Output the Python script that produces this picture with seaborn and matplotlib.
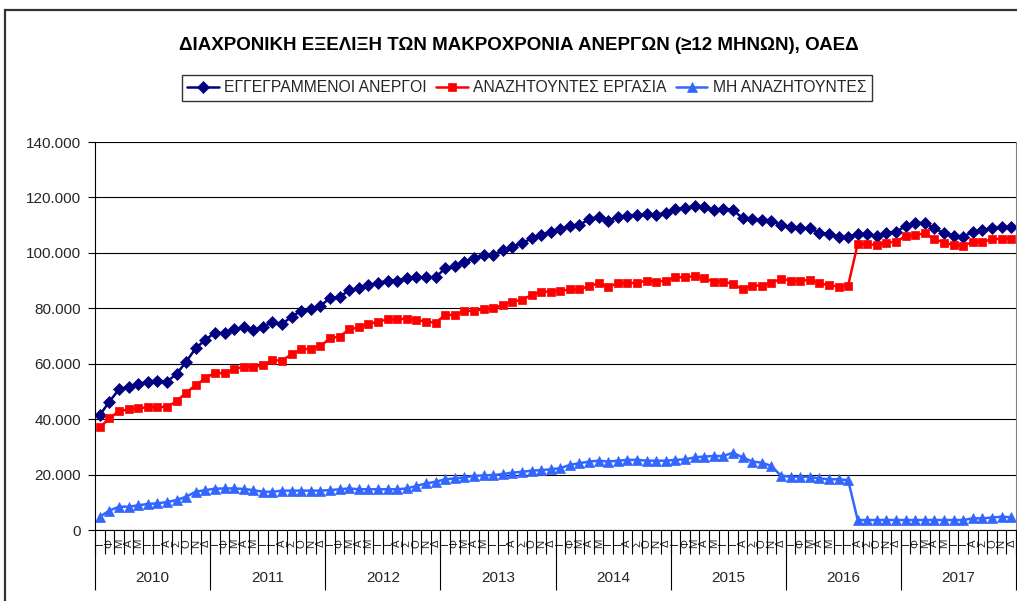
import matplotlib
matplotlib.use("Agg")
import matplotlib.pyplot as plt
import seaborn as sns
import pandas as pd
import numpy as np
from matplotlib.patches import Rectangle

# ---------------- data ----------------
years = ['2010', '2011', '2012', '2013', '2014', '2015', '2016', '2017']
months = ['Ι', 'Φ', 'Μ', 'Α', 'Μ', 'Ι', 'Ι', 'Α', 'Σ', 'Ο', 'Ν', 'Δ']
series_names = ['ΕΓΓΕΓΡΑΜΜΕΝΟΙ ΑΝΕΡΓΟΙ', 'ΑΝΑΖΗΤΟΥΝΤΕΣ ΕΡΓΑΣΙΑ', 'ΜΗ ΑΝΑΖΗΤΟΥΝΤΕΣ']
title = 'ΔΙΑΧΡΟΝΙΚΗ ΕΞΕΛΙΞΗ ΤΩΝ ΜΑΚΡΟΧΡΟΝΙΑ ΑΝΕΡΓΩΝ (≥12 ΜΗΝΩΝ), ΟΑΕΔ'

# values in thousands of persons, monthly Jan 2010 - Dec 2017
registered = [
    41.5, 46.3, 50.8, 51.7, 52.7, 53.5, 53.9, 53.5, 56.3, 60.7, 65.6, 68.6,
    71.2, 71.0, 72.4, 73.1, 72.2, 73.1, 75.2, 74.3, 77.0, 79.1, 79.6, 81.0,
    83.6, 84.0, 86.6, 87.2, 88.4, 89.0, 90.0, 90.0, 90.8, 91.2, 91.2, 91.2,
    94.4, 95.3, 96.8, 98.0, 99.2, 99.2, 101.0, 102.2, 103.4, 105.2, 106.4, 107.6,
    108.6, 109.7, 110.1, 112.1, 113.1, 111.5, 113.1, 113.4, 113.7, 114.0, 113.7, 114.5,
    115.7, 116.1, 117.0, 116.5, 115.5, 116.0, 115.5, 112.5, 112.1, 111.9, 111.6, 110.0,
    109.2, 108.8, 108.8, 107.3, 106.8, 105.8, 105.8, 106.8, 106.8, 106.1, 107.3, 107.6,
    109.7, 110.7, 110.9, 108.8, 107.1, 106.1, 105.8, 107.6, 108.2, 108.8, 109.2, 109.4,
]
seeking = [
    37.0, 40.3, 42.9, 43.5, 43.9, 44.3, 44.5, 44.3, 46.5, 49.5, 52.3, 54.7,
    56.8, 56.5, 58.0, 58.9, 58.7, 59.5, 61.3, 61.1, 63.5, 65.2, 65.4, 66.4,
    69.2, 69.8, 72.4, 73.1, 74.3, 75.2, 76.0, 76.0, 76.3, 75.8, 75.2, 74.8,
    77.6, 77.6, 79.1, 79.1, 79.6, 80.0, 81.2, 82.4, 83.0, 84.8, 86.0, 86.0,
    86.3, 86.8, 86.8, 88.0, 89.0, 87.8, 89.0, 89.0, 89.2, 90.0, 89.6, 90.0,
    91.2, 91.2, 91.6, 90.8, 89.6, 89.6, 88.8, 86.8, 88.2, 88.2, 89.2, 90.6,
    90.0, 90.0, 90.2, 89.0, 88.4, 87.8, 88.2, 103.2, 103.2, 102.8, 103.7, 104.0,
    106.1, 106.4, 107.1, 104.9, 103.7, 102.8, 102.5, 104.0, 104.0, 104.9, 105.1, 105.1,
]
not_seeking = [
    4.8, 7.0, 8.4, 8.4, 8.9, 9.4, 9.6, 10.1, 10.8, 12.0, 13.8, 14.4,
    14.9, 15.0, 15.0, 14.8, 14.4, 13.8, 13.8, 14.2, 14.2, 14.2, 14.2, 14.2,
    14.4, 14.7, 15.0, 14.7, 14.7, 14.7, 14.7, 14.7, 15.0, 15.9, 16.8, 17.4,
    18.3, 18.6, 19.0, 19.5, 19.7, 19.8, 20.2, 20.7, 21.0, 21.4, 21.6, 21.9,
    22.3, 23.5, 24.1, 24.7, 25.0, 24.7, 25.0, 25.3, 25.3, 25.0, 25.0, 25.0,
    25.3, 25.5, 26.2, 26.5, 26.7, 26.7, 27.9, 26.2, 24.7, 24.3, 23.1, 19.6,
    19.2, 19.2, 19.2, 18.6, 18.3, 18.3, 18.0, 3.6, 3.6, 3.6, 3.6, 3.6,
    3.6, 3.6, 3.6, 3.6, 3.6, 3.6, 3.6, 4.2, 4.2, 4.5, 4.8, 4.6,
]
y_ticks = [0, 20000, 40000, 60000, 80000, 100000, 120000, 140000]

# ---------------- style ----------------
sns.set_theme(style='white')
plt.rcParams['font.family'] = ['Liberation Sans', 'DejaVu Sans']

W, H = 1017, 601
fig = plt.figure(figsize=(W / 100, H / 100), dpi=100)
fig.patch.set_facecolor('white')
ax = fig.add_axes([95 / W, 1 - 530 / H, (1016 - 95) / W, (530 - 142) / H])
ax.set_facecolor('white')

n = len(years) * len(months)
df = pd.DataFrame({
    'idx': np.arange(n),
    series_names[0]: np.array(registered) * 1000,
    series_names[1]: np.array(seeking) * 1000,
    series_names[2]: np.array(not_seeking) * 1000,
})

colors = ['#000080', '#FF0000', '#3366FF']
markers = ['D', 's', '^']
msizes = [6.0, 5.5, 6.5]
for name, c, m, ms in zip(series_names, colors, markers, msizes):
    sns.lineplot(data=df, x='idx', y=name, ax=ax, color=c, marker=m,
                 markersize=ms, markeredgecolor=c, markeredgewidth=0.5,
                 linewidth=1.8, label=name, legend=False)

ax.set_xlim(-0.5, n - 0.5)
ax.set_ylim(0, 140000)
ax.set_xlabel('')
ax.set_ylabel('')

# y axis
ax.set_yticks(y_ticks)
ax.set_yticklabels([f'{v:,.0f}'.replace(',', '.') for v in y_ticks], fontsize=11)
ax.yaxis.grid(True, color='black', linewidth=0.8)
ax.set_axisbelow(True)
ax.tick_params(axis='y', length=5, width=0.8, color='black', direction='out',
               pad=5, left=True)

# x axis: month labels
ax.set_xticks(np.arange(n))
ax.set_xticklabels(months * len(years), fontsize=8.2, rotation=90)
for lbl in ax.get_xticklabels():
    lbl.set_verticalalignment('center')
ax.tick_params(axis='x', which='major', length=0, pad=9.8, bottom=True)
ax.set_xticks(np.arange(-0.5, n, 1), minor=True)
ax.tick_params(axis='x', which='minor', length=17, width=0.8, color='black',
               direction='out', bottom=True)

# year separators and labels
xt = ax.get_xaxis_transform()
ax.vlines([k * 12 - 0.5 for k in range(len(years) + 1)], -60 / 388, 0,
          transform=xt, colors='black', linewidth=0.8, clip_on=False)
for k, yr in enumerate(years):
    ax.text(k * 12 + 5.5, -48 / 388, yr, transform=xt, ha='center',
            va='center', fontsize=11)

for s in ['left', 'bottom']:
    ax.spines[s].set_color('black')
    ax.spines[s].set_linewidth(0.8)
ax.spines['top'].set_visible(False)
ax.spines['right'].set_color('#808080')
ax.spines['right'].set_linewidth(0.8)

# title
fig.text(519 / W, 1 - 45 / H, title, ha='center', va='center',
         fontsize=13.5, fontweight='bold', color='black')

# legend
handles = ax.get_lines()[:3]
leg = fig.legend(handles, series_names, loc='center',
                 bbox_to_anchor=(527 / W, 1 - 88 / H), ncol=3, frameon=True,
                 fancybox=False, fontsize=11.3, handlelength=2.0,
                 handletextpad=0.35, columnspacing=0.6, borderpad=0.35,
                 borderaxespad=0)
leg.get_frame().set_edgecolor('black')
leg.get_frame().set_linewidth(1.0)

# outer chart frame
fig.patches.append(Rectangle((5 / W, -0.05), 1.2, 1 - 10 / H + 0.05,
                             transform=fig.transFigure, fill=False,
                             edgecolor='#333333', linewidth=1.6))

fig.savefig('out.png', dpi=100)
